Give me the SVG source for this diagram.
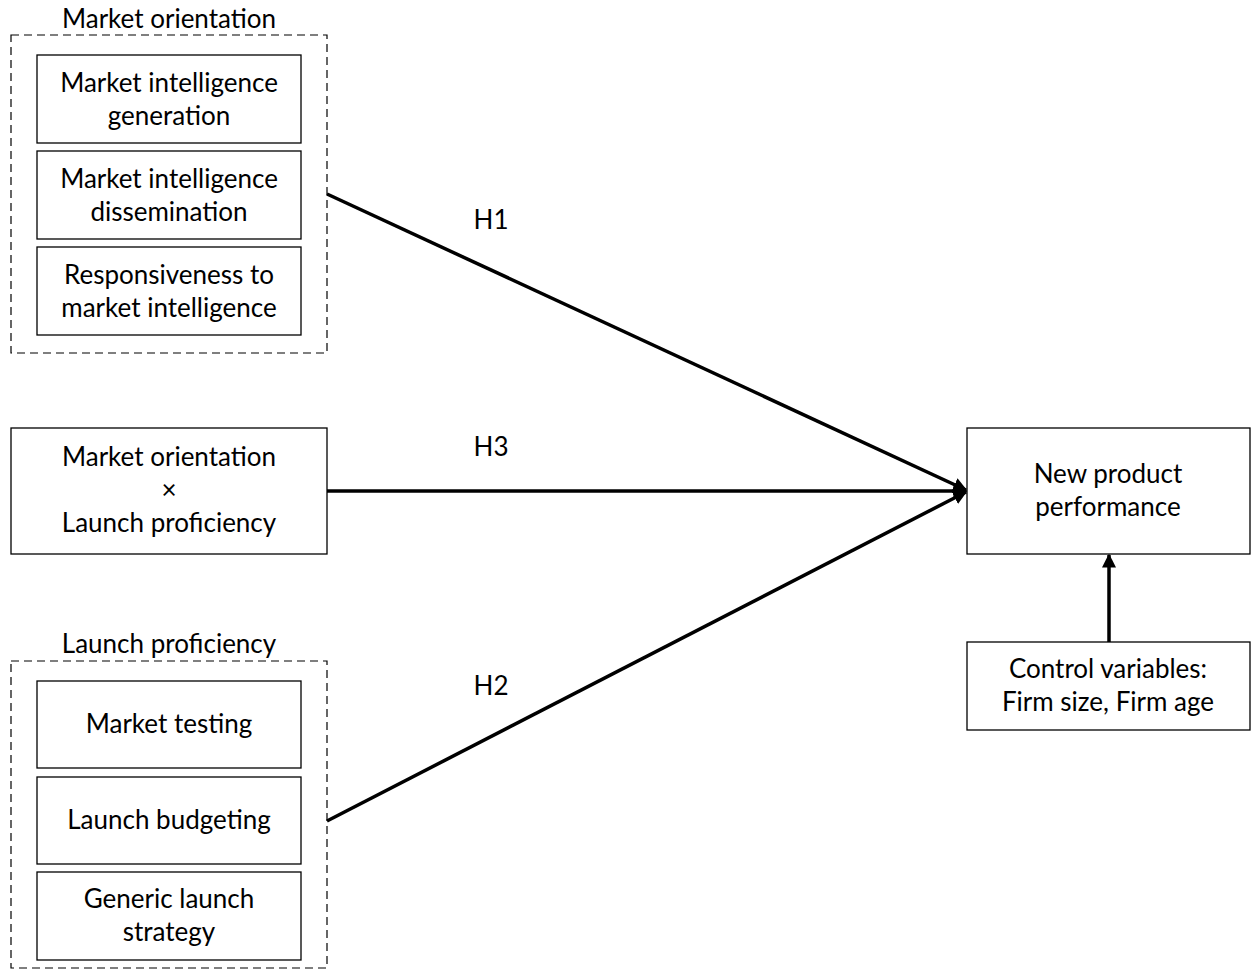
<svg xmlns="http://www.w3.org/2000/svg" width="1251" height="980" viewBox="0 0 1251 980">
<style>
text{font-family:Lato,"Open Sans",sans-serif;font-size:26px;fill:#000;text-anchor:middle}
.box{fill:#fff;stroke:#000;stroke-width:1.3}
.dash{fill:none;stroke:#000;stroke-width:1.2;stroke-dasharray:8,5}
.conn{stroke:#000;stroke-width:3.5;fill:none}
</style>
<defs>
<marker id="ah" viewBox="0 0 10 10" refX="9" refY="5" markerWidth="4" markerHeight="4" orient="auto" markerUnits="strokeWidth">
<path d="M0,0 L10,5 L0,10 z" fill="#000"/>
</marker>
</defs>
<rect width="1251" height="980" fill="#fff"/>
<g id="market-orientation">
<text x="169" y="28">Market orientation</text>
<rect class="dash" x="11" y="35" width="316" height="318"/>
</g>
<g id="mi-generation">
<rect class="box" x="37" y="55" width="264" height="88"/>
<text x="169" y="92">Market intelligence</text>
<text x="169" y="125">generation</text>
</g>
<g id="mi-dissemination">
<rect class="box" x="37" y="151" width="264" height="88"/>
<text x="169" y="188">Market intelligence</text>
<text x="169" y="221">dissemination</text>
</g>
<g id="responsiveness">
<rect class="box" x="37" y="247" width="264" height="88"/>
<text x="169" y="284">Responsiveness to</text>
<text x="169" y="317">market intelligence</text>
</g>
<g id="interaction">
<rect class="box" x="11" y="428" width="316" height="126"/>
<text x="169" y="466">Market orientation</text>
<text x="169" y="499">×</text>
<text x="169" y="532">Launch proficiency</text>
</g>
<g id="launch-proficiency">
<text x="169" y="653">Launch proficiency</text>
<rect class="dash" x="11" y="661" width="316" height="307"/>
</g>
<g id="market-testing">
<rect class="box" x="37" y="681" width="264" height="87"/>
<text x="169" y="733">Market testing</text>
</g>
<g id="launch-budgeting">
<rect class="box" x="37" y="777" width="264" height="87"/>
<text x="169" y="829">Launch budgeting</text>
</g>
<g id="generic-strategy">
<rect class="box" x="37" y="872" width="264" height="88"/>
<text x="169" y="908">Generic launch</text>
<text x="169" y="941">strategy</text>
</g>
<g id="npp">
<rect class="box" x="967" y="428" width="283" height="126"/>
<text x="1108" y="483">New product</text>
<text x="1108" y="516">performance</text>
</g>
<g id="controls">
<rect class="box" x="967" y="642" width="283" height="88"/>
<text x="1108" y="678">Control variables:</text>
<text x="1108" y="711">Firm size, Firm age</text>
</g>
<g id="connectors">
<line class="conn" x1="327" y1="194" x2="966" y2="490" marker-end="url(#ah)"/>
<line class="conn" x1="327" y1="491" x2="966" y2="491" marker-end="url(#ah)"/>
<line class="conn" x1="327" y1="821" x2="966" y2="492" marker-end="url(#ah)"/>
<line class="conn" x1="1109" y1="642" x2="1109" y2="555" marker-end="url(#ah)"/>
<text x="491" y="229">H1</text>
<text x="491" y="456">H3</text>
<text x="491" y="695">H2</text>
</g>
</svg>
